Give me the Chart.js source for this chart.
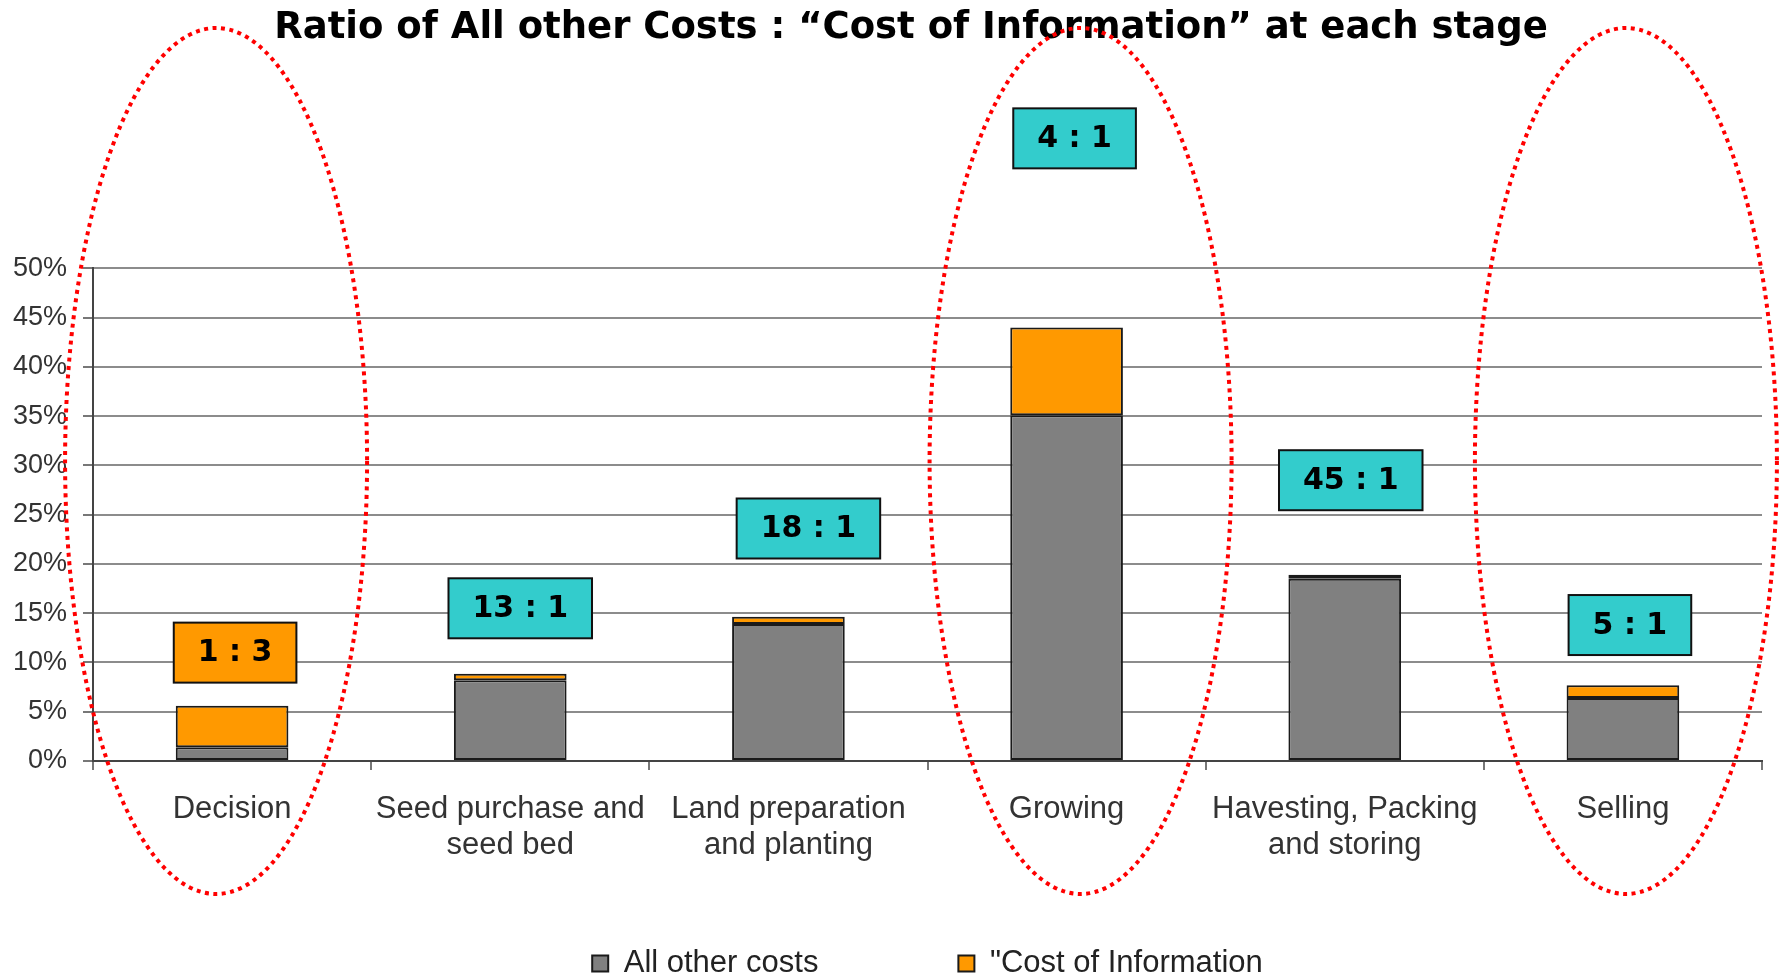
<!DOCTYPE html>
<html>
<head>
<meta charset="utf-8">
<script src="https://cdn.jsdelivr.net/npm/chart.js@4/dist/chart.umd.min.js"></script>
<style>
  html, body { margin: 0; padding: 0; background: #fff; }
  #wrap { width: 1780px; height: 977px; }
</style>
</head>
<body>
<div id="wrap"><canvas id="myChart" width="1780" height="977"></canvas></div>
<script>
// chart data
const stages = [
    ['Decision'],
    ['Seed purchase and', 'seed bed'],
    ['Land preparation', 'and planting'],
    ['Growing'],
    ['Havesting, Packing', 'and storing'],
    ['Selling']
];
const allOtherCosts = [1.4, 8.2, 13.9, 35.1, 18.5, 6.4];
const costOfInformation = [4.2, 0.65, 0.75, 8.9, 0.4, 1.3];
const ratioLabels = ['1 : 3', '13 : 1', '18 : 1', '4 : 1', '45 : 1', '5 : 1'];
const yTicks = [0, 5, 10, 15, 20, 25, 30, 35, 40, 45, 50];
const circledStages = [0, 3, 5];

// where the ratio boxes sit (y in % units, x shift in px)
const boxAt = [11.0, 15.5, 23.6, 63.2, 28.5, 13.8];
const boxShift = [3, 10, 20, 8, 6, 7];
const ellipseShift = { 0: -16, 3: 14, 5: 3 };

const overlay = {
    id: 'overlay',
    afterLayout(chart) {
        // let tick labels draw past the squeezed scale boxes
        chart.scales.x.bottom = chart.height;
        chart.scales.y.left = 0;
    },
    afterDraw(chart) {
        const ctx = chart.ctx;
        const x = chart.scales.x;
        const y = chart.scales.y;

        // ratio boxes
        ctx.save();
        ctx.font = 'bold 30px "DejaVu Sans"';
        ctx.textAlign = 'center';
        ctx.textBaseline = 'middle';
        ratioLabels.forEach((txt, i) => {
            const cx = x.getPixelForValue(i) + boxShift[i];
            const cy = y.getPixelForValue(boxAt[i]);
            const w = ctx.measureText(txt).width + 48;
            const h = 60;
            ctx.fillStyle = costOfInformation[i] > allOtherCosts[i] ? '#FF9900' : '#33CCCC';
            ctx.fillRect(cx - w / 2, cy - h / 2, w, h);
            ctx.lineWidth = 2;
            ctx.strokeStyle = '#111';
            ctx.strokeRect(cx - w / 2, cy - h / 2, w, h);
            ctx.fillStyle = '#000';
            ctx.fillText(txt, cx, cy + 1);
        });
        ctx.restore();

        // red dotted ellipses
        ctx.save();
        ctx.strokeStyle = '#FF0000';
        ctx.lineWidth = 4;
        ctx.setLineDash([4, 4.5]);
        circledStages.forEach(i => {
            const cx = x.getPixelForValue(i) + ellipseShift[i];
            ctx.beginPath();
            ctx.ellipse(cx, 461, 151, 433, 0, 0, Math.PI * 2);
            ctx.stroke();
        });
        ctx.restore();
    }
};

const ctx = document.getElementById('myChart').getContext('2d');
const myChart = new Chart(ctx, {
    type: 'bar',
    data: {
        labels: stages,
        datasets: [{
            label: 'All other costs',
            data: allOtherCosts,
            backgroundColor: '#808080',
            borderColor: '#1a1a1a',
            borderWidth: 2,
            borderSkipped: false,
            barPercentage: 0.405,
            categoryPercentage: 1
        }, {
            label: '"Cost of Information',
            data: costOfInformation,
            backgroundColor: '#FF9900',
            borderColor: '#1a1a1a',
            borderWidth: 2,
            borderSkipped: false,
            barPercentage: 0.405,
            categoryPercentage: 1
        }]
    },
    options: {
        responsive: false,
        animation: false,
        layout: { padding: { left: 60, right: 18, top: 0, bottom: -12 } },
        plugins: {
            title: {
                display: true,
                text: 'Ratio of All other Costs : \u201CCost of Information\u201D at each stage',
                color: '#000',
                font: { family: 'DejaVu Sans', size: 37, weight: 'bold' },
                padding: { top: 6, bottom: 218 }
            },
            legend: {
                position: 'bottom',
                fullSize: false,
                labels: {
                    color: '#222',
                    font: { family: 'Liberation Sans', size: 31 },
                    boxWidth: 16,
                    boxHeight: 16,
                    padding: 140
                }
            },
            tooltip: { enabled: false }
        },
        scales: {
            x: {
                stacked: true,
                afterFit: s => { s.height = 47; },
                grid: {
                    offset: true,
                    drawOnChartArea: true,
                    color: c => c.index === stages.length ? '#8c8c8c' : 'rgba(0,0,0,0)',
                    lineWidth: 2,
                    tickColor: '#777',
                    tickLength: 9
                },
                border: { color: '#444', width: 2 },
                ticks: {
                    color: '#333',
                    font: { family: 'Liberation Sans', size: 31, lineHeight: 1.18 },
                    padding: 21,
                    maxRotation: 0,
                    autoSkip: false
                }
            },
            y: {
                stacked: true,
                min: 0,
                max: 50,
                afterFit: s => { s.width = 33; },
                afterBuildTicks: s => { s.ticks = yTicks.map(v => ({ value: v })); },
                grid: {
                    color: '#8c8c8c',
                    lineWidth: 2,
                    tickColor: '#777',
                    tickLength: 10
                },
                border: { color: '#444', width: 2 },
                ticks: {
                    color: '#333',
                    font: { family: 'Liberation Sans', size: 27 },
                    padding: 16,
                    callback: v => v + '%'
                }
            }
        }
    },
    plugins: [overlay]
});
</script>
</body>
</html>
